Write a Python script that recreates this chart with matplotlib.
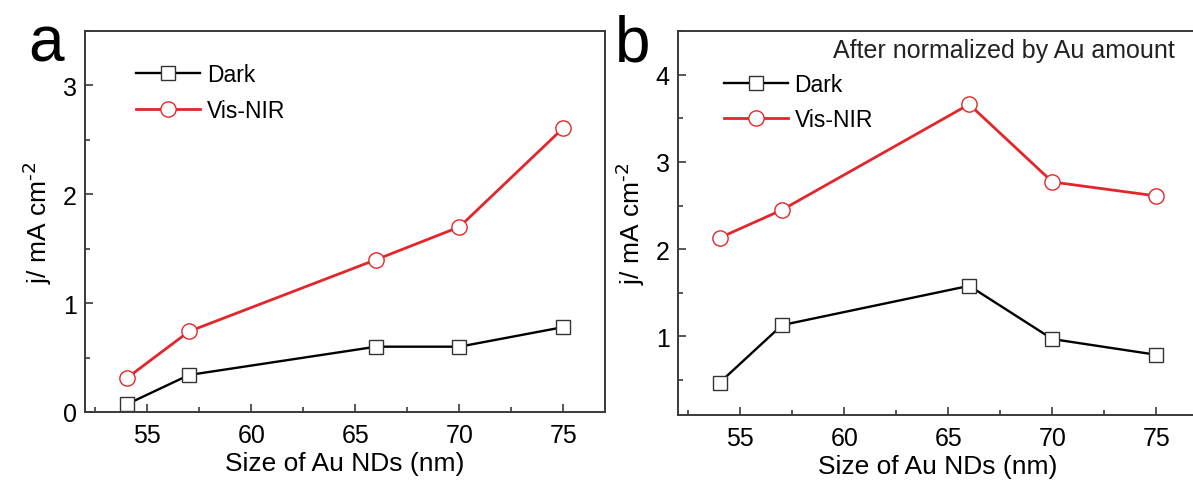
import matplotlib
matplotlib.use("Agg")
import matplotlib.pyplot as plt
from matplotlib.ticker import MultipleLocator

plt.rcParams['font.family'] = ['Liberation Sans', 'DejaVu Sans']

sizes = [54, 57, 66, 70, 75]
dark_a = [0.07, 0.34, 0.60, 0.60, 0.78]
vis_a = [0.31, 0.74, 1.40, 1.70, 2.61]
dark_b = [0.47, 1.13, 1.58, 0.97, 0.79]
vis_b = [2.13, 2.45, 3.66, 2.77, 2.61]
series_labels = ["Dark", "Vis-NIR"]
xlabel = "Size of Au NDs (nm)"
ylabel = r"j/ mA cm$^{\text{-2}}$"
note_b = "After normalized by Au amount"

RED = '#e3262b'
FRAME = '#3a3a3a'

fig = plt.figure(figsize=(11.93, 4.81), dpi=100)
ax_a = fig.add_axes([85/1193, 1-413/481, 520/1193, 381/481])
ax_b = fig.add_axes([678/1193, 1-416/481, 520/1193, 384/481])

def style(ax, ylim, yticks):
    ax.set_xlim(52, 77)
    ax.set_ylim(*ylim)
    ax.xaxis.set_major_locator(MultipleLocator(5))
    ax.xaxis.set_minor_locator(MultipleLocator(2.5))
    ax.set_yticks(yticks)
    ax.yaxis.set_minor_locator(MultipleLocator(0.5))
    ax.tick_params(which='both', direction='in', top=False, right=False,
                   color=FRAME, width=1.2)
    ax.tick_params(which='major', length=6, labelsize=18, pad=6)
    ax.tick_params(which='minor', length=3.5)
    ax.tick_params(axis='x', which='major', pad=8)
    for s in ax.spines.values():
        s.set_color(FRAME)
        s.set_linewidth(1.4)
    ax.set_xlabel(xlabel, fontsize=19, labelpad=3)
    ax.set_ylabel(ylabel, fontsize=19, labelpad=6)

for ax, d, v in [(ax_a, dark_a, vis_a), (ax_b, dark_b, vis_b)]:
    ax.plot(sizes, d, color='black', lw=1.7, marker='s', ms=10,
            mfc='white', mec='#333333', mew=1.0, label=series_labels[0])
    ax.plot(sizes, v, color=RED, lw=2.0, marker='o', ms=11,
            mfc='white', mec=RED, mew=1.0, label=series_labels[1])

style(ax_a, (0, 3.5), [0, 1, 2, 3])
style(ax_b, (0.1, 4.5), [1, 2, 3, 4])

leg_kw = dict(loc='upper left', frameon=False, fontsize=16.5,
              handlelength=2.8, handletextpad=0.3, labelspacing=0.55,
              borderaxespad=0)
ax_a.legend(bbox_to_anchor=(0.08, 0.94), **leg_kw)
ax_b.legend(bbox_to_anchor=(0.07, 0.915), **leg_kw)

ax_b.text(0.955, 0.95, note_b, transform=ax_b.transAxes, ha='right',
          va='center', fontsize=18, color='#222222')

fig.text(28/1193, 1-62/481, 'a', fontsize=46, ha='left', va='baseline')
fig.text(615/1193, 1-62/481, 'b', fontsize=46, ha='left', va='baseline')

fig.savefig('out.png', dpi=100)
